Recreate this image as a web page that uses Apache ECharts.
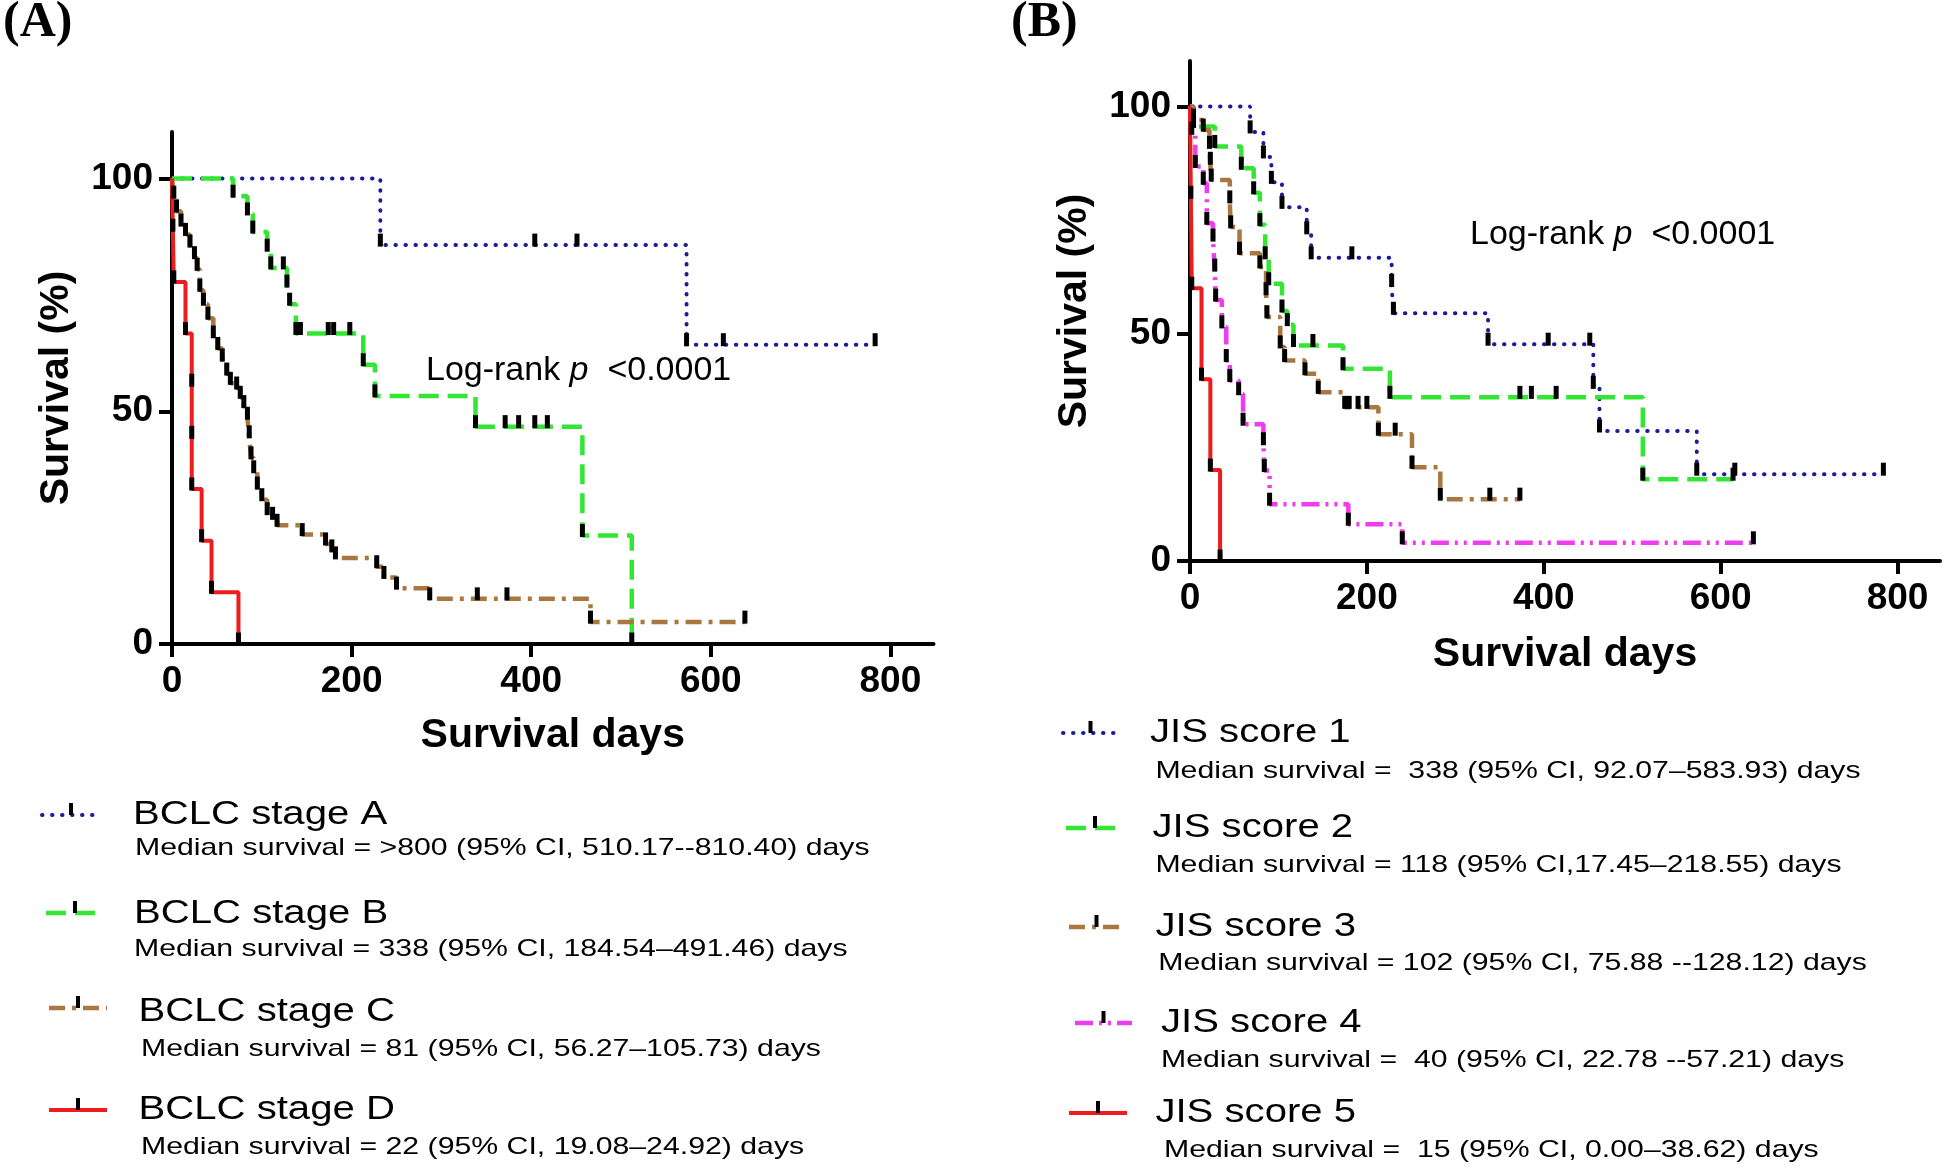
<!DOCTYPE html>
<html>
<head>
<meta charset="utf-8">
<script src="https://cdn.jsdelivr.net/npm/echarts@6.0.0/dist/echarts.min.js"></script>
<style>
  html, body { margin: 0; padding: 0; background: #fff; }
  #chart { width: 1946px; height: 1170px; }
</style>
</head>
<body>
<div id="chart"></div>
<script>
// ---------------- DATA ----------------
const xTickValues = [0, 200, 400, 600, 800];
const yTickValues = [0, 50, 100];

// Panel A: BCLC stages  [survival day, survival %]
const bclcA = [[0,100],[232,85.7],[404,85.7],[451,85.7],[573,64.3],[614,64.3],[783,64.3]];
const bclcB = [[0,100],[68,96.2],[84,92.4],[90,88.5],[106,84.6],[110,80.8],[124,80.8],[128,76.9],[131,73],[138,66.7],[143,66.7],[174,66.7],[180,66.7],[198,66.7],[213,60],[226,53.3],[338,46.7],[371,46.7],[386,46.7],[404,46.7],[418,46.7],[457,23.3],[512,0]];
const bclcC = [[0,100],[2,96],[5,93],[10,90],[15,88],[20,85.5],[25,83],[28,80.5],[31,76],[35,73],[40,70],[46,66],[51,63.5],[56,61],[61,58],[65,56],[72,55],[76,53],[80,51],[84,48.5],[86,44.5],[88,40],[91,37],[95,33.5],[100,31],[106,28],[112,27],[117,25.5],[145,23.5],[171,21.5],[178,20],[182,18.5],[228,16.6],[236,14.3],[250,12],[287,9.7],[340,9.7],[373,9.7],[466,4.7],[638,4.7]];
const bclcD = [[0,100],[1,88.9],[2,77.8],[15,66.7],[22,55.6],[22,44.4],[22,33.3],[33,22.2],[44,11.1],[74,0]];

// Panel B: JIS scores
const jis1 = [[0,100],[68,94.4],[83,88.9],[92,83.3],[104,77.8],[132,72.2],[137,66.7],[183,66.7],[228,60.6],[230,54.5],[337,47.7],[405,47.7],[452,47.7],[456,38.2],[463,28.6],[573,19.1],[616,19.1],[784,19.1]];
const jis2 = [[0,100],[4,95.6],[28,91.2],[58,86.4],[72,81],[79,74],[85,66.7],[89,61],[104,55],[110,52],[117,47.4],[139,47.4],[173,42.3],[226,36],[373,36],[386,36],[414,36],[512,18],[614,18]];
const jis3 = [[0,100],[4,97],[15,94.8],[22,91],[23,87.5],[24,83.8],[45,79],[46,73.5],[56,67.7],[79,64.7],[86,58.8],[87,53.7],[102,47.1],[107,44.1],[130,41.2],[145,37.1],[175,33.8],[180,33.8],[190,33.8],[200,33.8],[213,27.9],[232,27.9],[251,20.6],[283,13.6],[339,13.6],[373,13.6]];
const jis4 = [[0,100],[2,94.1],[6,86.8],[15,83.1],[19,74.3],[26,70.6],[28,64],[29,57.4],[36,51.5],[41,44.1],[45,39.7],[55,36.8],[60,30.1],[83,25.8],[84,19.9],[90,12.5],[179,8.1],[240,4],[637,4]];
const jis5 = [[0,100],[1,80],[2,60],[13,40],[23,20],[34,0]];

const bclcNames = ['BCLC stage A', 'BCLC stage B', 'BCLC stage C', 'BCLC stage D'];
const bclcMedians = [
  'Median survival = >800 (95% CI, 510.17--810.40) days',
  'Median survival = 338 (95% CI, 184.54\u2013491.46) days',
  'Median survival = 81 (95% CI, 56.27\u2013105.73) days',
  'Median survival = 22 (95% CI, 19.08\u201324.92) days'
];
const jisNames = ['JIS score 1', 'JIS score 2', 'JIS score 3', 'JIS score 4', 'JIS score 5'];
const jisMedians = [
  'Median survival =  338 (95% CI, 92.07\u2013583.93) days',
  'Median survival = 118 (95% CI,17.45\u2013218.55) days',
  'Median survival = 102 (95% CI, 75.88 --128.12) days',
  'Median survival =  40 (95% CI, 22.78 --57.21) days',
  'Median survival =  15 (95% CI, 0.00\u201338.62) days'
];
const panelTitles = ['(A)', '(B)'];
const axisNameX = 'Survival days';
const axisNameY = 'Survival (%)';

// ---------------- STYLES ----------------
const FONT = "'Liberation Sans', Arial, Helvetica, sans-serif";
const styles = {
  blue:    { color: '#1c1c9a', width: 4,   type: [0.5, 9.5], cap: 'round' },
  green:   { color: '#33e633', width: 4.5, type: [20, 9],    cap: 'butt' },
  brown:   { color: '#a87840', width: 4.5, type: [16, 7, 4, 7], cap: 'butt' },
  magenta: { color: '#f03cf0', width: 4.5, type: [18, 6, 3, 6, 3, 6], cap: 'butt' },
  red:     { color: '#ee1c1c', width: 4,   type: 'solid',   cap: 'butt' }
};

function kmSeries(name, data, st, idx) {
  return {
    name: name, type: 'line', data: data, step: 'end',
    xAxisIndex: idx, yAxisIndex: idx,
    lineStyle: { color: st.color, width: st.width, type: st.type, cap: st.cap },
    itemStyle: { color: '#000' },
    symbol: function (v, p) { return p.dataIndex === 0 ? 'none' : 'rect'; },
    symbolSize: [5, 13], symbolOffset: [0, -5],
    showAllSymbol: true, clip: false, silent: true, animation: false
  };
}

function xAxisCfg(idx, gap) {
  return {
    gridIndex: idx, type: 'value', min: 0, max: 848,
    axisLine: { show: true, lineStyle: { color: '#000', width: 4 } },
    axisTick: { show: true, length: 13, lineStyle: { color: '#000', width: 4 }, customValues: xTickValues },
    axisLabel: { customValues: xTickValues, margin: 19, fontSize: 37, fontWeight: 'bold', color: '#000', fontFamily: FONT,
                 formatter: function (v) { return xTickValues.indexOf(v) >= 0 ? String(v) : ''; } },
    splitLine: { show: false },
    name: axisNameX, nameLocation: 'middle', nameGap: gap,
    nameTextStyle: { fontSize: 41, fontWeight: 'bold', color: '#000', fontFamily: FONT }
  };
}
function yAxisCfg(idx) {
  return {
    gridIndex: idx, type: 'value', min: 0, max: 110,
    axisLine: { show: true, lineStyle: { color: '#000', width: 4 } },
    axisTick: { show: true, length: 13, lineStyle: { color: '#000', width: 4 }, customValues: yTickValues },
    axisLabel: { customValues: yTickValues, margin: 19, fontSize: 37, fontWeight: 'bold', color: '#000', fontFamily: FONT,
                 formatter: function (v) { return yTickValues.indexOf(v) >= 0 ? String(v) : ''; } },
    splitLine: { show: false },
    name: axisNameY, nameLocation: 'middle', nameGap: 95,
    nameTextStyle: { fontSize: 41, fontWeight: 'bold', color: '#000', fontFamily: FONT }
  };
}

// ---------------- GRAPHICS (titles, annotations, legends) ----------------
const graphic = [];
function addText(x, y, text, size, opts) {
  opts = opts || {};
  graphic.push({
    type: 'text', x: x, y: y, scaleX: opts.scaleX || 1, silent: true,
    style: {
      text: text, fill: '#000', fontSize: size, fontFamily: opts.family || FONT,
      fontWeight: opts.weight || 'normal', rich: opts.rich,
      textAlign: 'left', textVerticalAlign: 'middle', align: 'left', verticalAlign: 'middle'
    }
  });
}
function addSample(x1, x2, y, st) {
  graphic.push({ type: 'line', silent: true, shape: { x1: x1, y1: y, x2: x2, y2: y },
    style: { stroke: st.color, lineWidth: st.width, lineDash: st.type === 'solid' ? null : st.type, lineCap: st.cap } });
  const mid = (x1 + x2) / 2;
  graphic.push({ type: 'rect', silent: true, shape: { x: mid - 2, y: y - 12, width: 4, height: 12 }, style: { fill: '#000' } });
}

addText(3, 23, panelTitles[0], 50, { family: "'Liberation Serif', 'Times New Roman', serif", weight: 'bold' });
addText(1011, 23, panelTitles[1], 50, { family: "'Liberation Serif', 'Times New Roman', serif", weight: 'bold' });

const LR = 33;
const richLR = {
  n: { fontSize: LR, fontFamily: FONT, fill: '#000', color: '#000' },
  it: { fontSize: LR, fontFamily: FONT, fontStyle: 'italic', fill: '#000', color: '#000' }
};
addText(426, 371, '{n|Log-rank }{it|p}{n|  <0.0001}', LR, { rich: richLR, scaleX: 1.03 });
addText(1470, 235, '{n|Log-rank }{it|p}{n|  <0.0001}', LR, { rich: richLR, scaleX: 1.03 });

const TITLE_SIZE = 34, TITLE_SX = 1.18, MED_SIZE = 24, MED_SX = 1.26;
const aStyles = [styles.blue, styles.green, styles.brown, styles.red];
const aSample = [[42, 100, 815], [46, 104, 913], [49, 107, 1008], [49, 107, 1110]];
const aTitlePos = [[133, 815], [134, 914], [138.5, 1012], [138.5, 1110]];
const aMedPos = [[135, 848.5], [134, 949], [141, 1049], [141, 1147.5]];
for (let i = 0; i < 4; i++) {
  addSample(aSample[i][0], aSample[i][1], aSample[i][2], aStyles[i]);
  addText(aTitlePos[i][0], aTitlePos[i][1], bclcNames[i], TITLE_SIZE, { scaleX: TITLE_SX });
  addText(aMedPos[i][0], aMedPos[i][1], bclcMedians[i], MED_SIZE, { scaleX: MED_SX });
}
const bStyles = [styles.blue, styles.green, styles.brown, styles.magenta, styles.red];
const bSample = [[1063, 1118, 733], [1066, 1124, 828], [1069, 1124, 927], [1075, 1132, 1023], [1069, 1127, 1113]];
const bTitlePos = [[1150, 733], [1152.5, 828], [1155.4, 926.5], [1161, 1023], [1155.4, 1113]];
const bMedPos = [[1155.4, 771.5], [1155.4, 865], [1158.3, 963], [1161, 1060], [1164, 1150]];
for (let i = 0; i < 5; i++) {
  addSample(bSample[i][0], bSample[i][1], bSample[i][2], bStyles[i]);
  addText(bTitlePos[i][0], bTitlePos[i][1], jisNames[i], TITLE_SIZE, { scaleX: TITLE_SX });
  addText(bMedPos[i][0], bMedPos[i][1], jisMedians[i], MED_SIZE, { scaleX: MED_SX });
}

// ---------------- CHART ----------------
const chart = echarts.init(document.getElementById('chart'), null, { renderer: 'canvas' });
chart.setOption({
  backgroundColor: '#ffffff',
  animation: false,
  grid: [
    { left: 172, top: 132, width: 761.5, height: 512 },
    { left: 1190, top: 61, width: 750, height: 500 }
  ],
  xAxis: [xAxisCfg(0, 71), xAxisCfg(1, 73)],
  yAxis: [yAxisCfg(0), yAxisCfg(1)],
  series: [
    kmSeries(bclcNames[0], bclcA, styles.blue, 0),
    kmSeries(bclcNames[1], bclcB, styles.green, 0),
    kmSeries(bclcNames[2], bclcC, styles.brown, 0),
    kmSeries(bclcNames[3], bclcD, styles.red, 0),
    kmSeries(jisNames[0], jis1, styles.blue, 1),
    kmSeries(jisNames[1], jis2, styles.green, 1),
    kmSeries(jisNames[2], jis3, styles.brown, 1),
    kmSeries(jisNames[3], jis4, styles.magenta, 1),
    kmSeries(jisNames[4], jis5, styles.red, 1)
  ],
  graphic: graphic
});
</script>
</body>
</html>
